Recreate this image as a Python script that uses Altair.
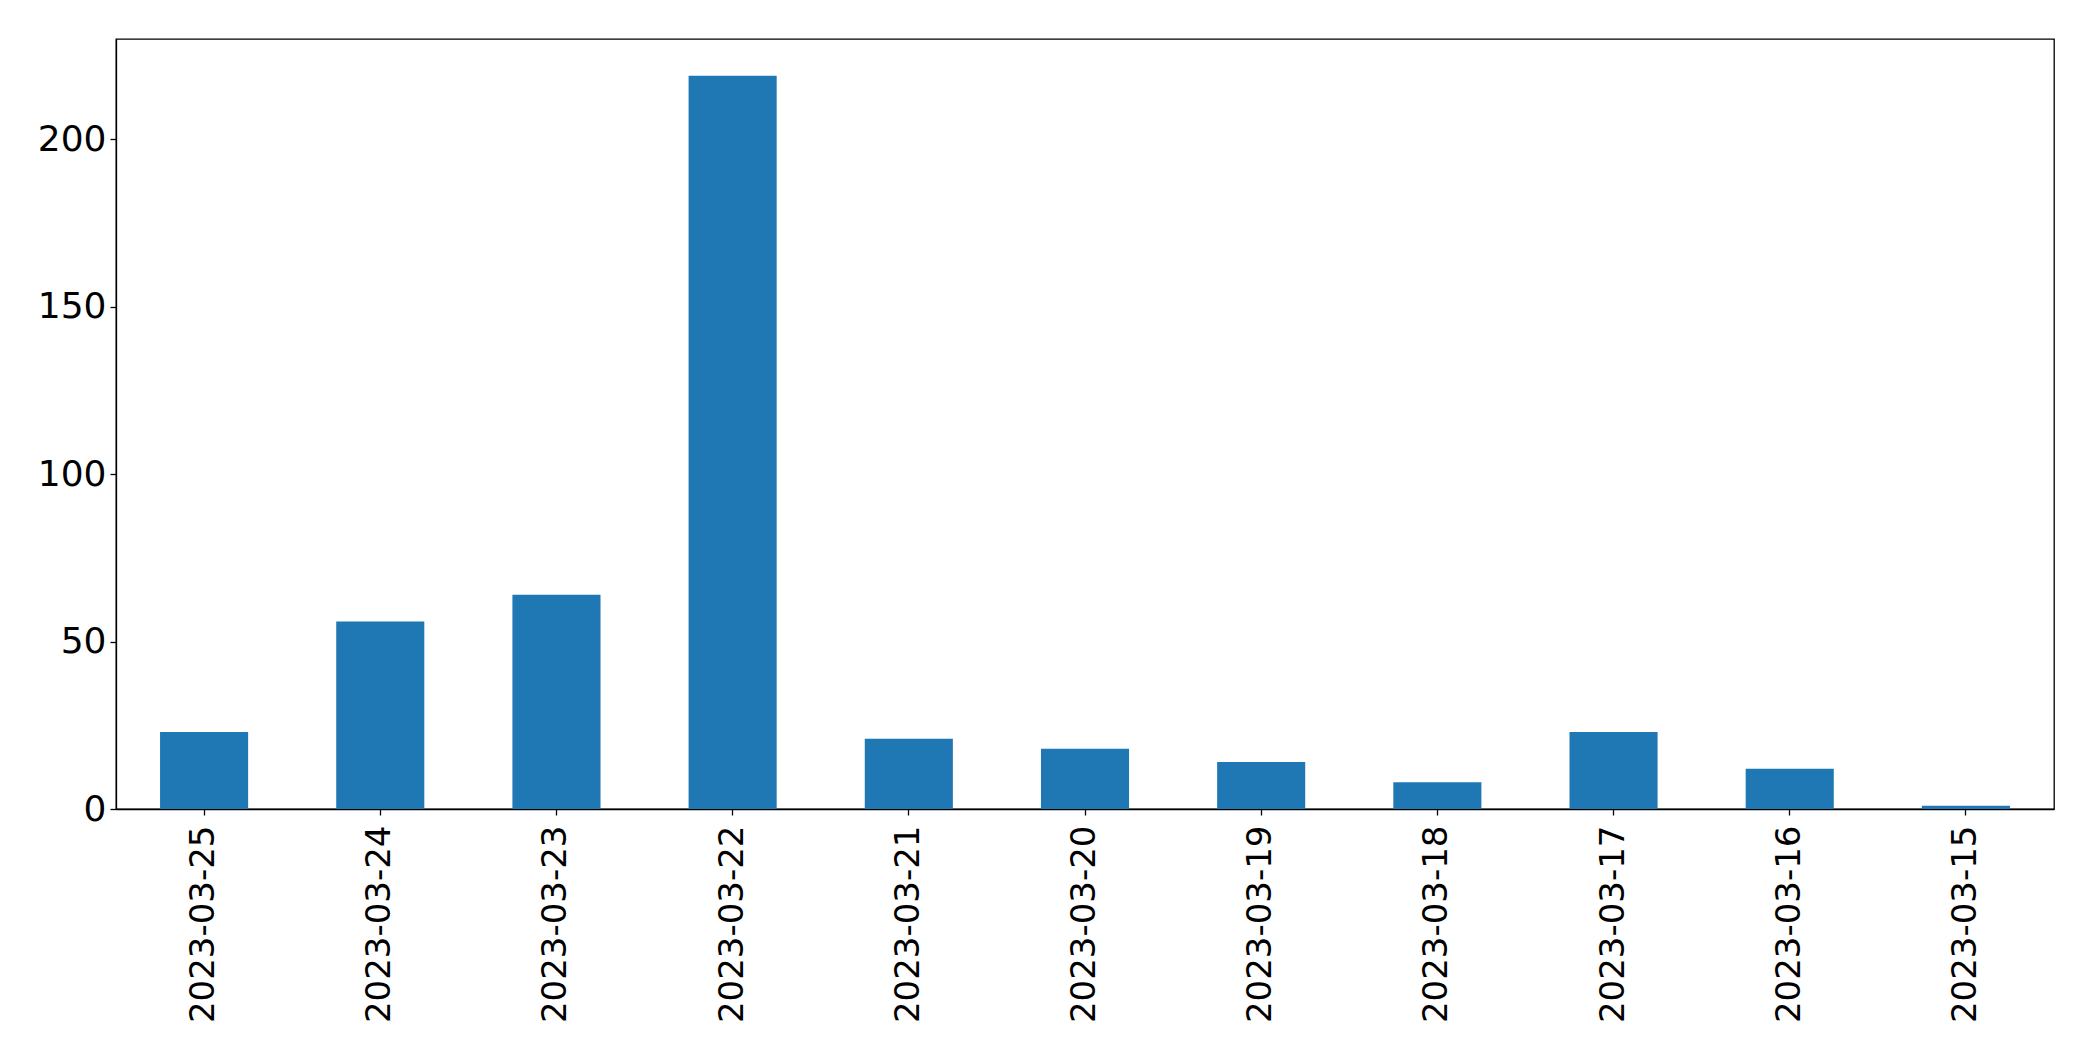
import altair as alt
import pandas as pd

dates = ["2023-03-25", "2023-03-24", "2023-03-23", "2023-03-22", "2023-03-21",
         "2023-03-20", "2023-03-19", "2023-03-18", "2023-03-17", "2023-03-16",
         "2023-03-15"]
counts = [23, 56, 64, 219, 21, 18, 14, 8, 23, 12, 1]
y_ticks = [0, 50, 100, 150, 200]

df = pd.DataFrame({"date": dates, "count": counts})

FONT = "DejaVu Sans"

chart = alt.Chart(df).mark_bar(color="#1f77b4").encode(
    x=alt.X("date:N", sort=None, title=None,
            scale=alt.Scale(paddingInner=0.5, paddingOuter=0.25),
            axis=alt.Axis(labelAngle=270, labelFontSize=34, labelFont=FONT,
                          labelColor="black", tickColor="black", tickSize=6,
                          tickWidth=1.3, labelPadding=10, domainColor="black",
                          domainWidth=1.3, labelLimit=400)),
    y=alt.Y("count:Q", title=None,
            scale=alt.Scale(domain=[0, 229.95], nice=False, zero=True),
            axis=alt.Axis(values=y_ticks, labelFontSize=36, labelFont=FONT,
                          labelColor="black", tickColor="black", tickSize=6,
                          tickWidth=1.3, labelPadding=4, grid=False,
                          domainColor="black", domainWidth=1.3)),
).properties(
    width=1938,
    height=770,
    autosize=alt.AutoSizeParams(type="none"),
    padding={"left": 108, "top": 31, "right": 20, "bottom": 230},
).configure(
    background="white",
    view=alt.ViewConfig(stroke="black", strokeWidth=1.3),
)

chart.save("out.html", embed_options={"renderer": "svg", "actions": False})
